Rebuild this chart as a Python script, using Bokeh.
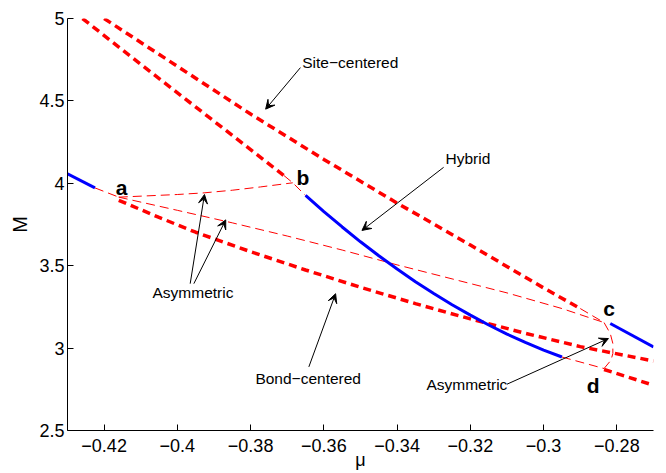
from bokeh.plotting import figure
from bokeh.models import Range1d, FixedTicker, Arrow, VeeHead, ColumnDataSource
from bokeh.core.properties import value
from bokeh.embed import file_html
from bokeh.resources import INLINE

# ---- axis ticks ----
x_ticks = [-0.42, -0.40, -0.38, -0.36, -0.34, -0.32, -0.30, -0.28]
x_tick_labels = ["−0.42", "−0.4", "−0.38", "−0.36", "−0.34", "−0.32", "−0.3", "−0.28"]
y_ticks = [2.5, 3.0, 3.5, 4.0, 4.5, 5.0]
y_tick_labels = ["2.5", "3", "3.5", "4", "4.5", "5"]

# ---- site-centered branches (thick dashed) ----
site_up_x = [-0.420, -0.400, -0.380, -0.360, -0.340, -0.320, -0.300, -0.290]
site_up_y = [5.000, 4.710, 4.420, 4.145, 3.880, 3.625, 3.365, 3.240]
site_lo_x = [-0.4259, -0.410, -0.390, -0.3709]
site_lo_y = [5.000, 4.722, 4.377, 4.047]

# ---- bond-centered branches (thick dashed) ----
bond_x = [-0.416, -0.405, -0.395, -0.380, -0.365, -0.350, -0.335, -0.320, -0.305, -0.290, -0.270]
bond_y = [3.897, 3.793, 3.703, 3.585, 3.474, 3.369, 3.270, 3.177, 3.090, 3.009, 2.922]
bond_d_x = [-0.2835, -0.270]
bond_d_y = [2.870, 2.775]

# ---- hybrid branches (solid blue) ----
hyb_left_x = [-0.430, -0.4225]
hyb_left_y = [4.057, 3.972]
hyb_mid_x = [-0.365, -0.360, -0.355, -0.350, -0.345, -0.340, -0.335, -0.330,
             -0.325, -0.320, -0.315, -0.310, -0.305, -0.300, -0.295]
hyb_mid_y = [3.926, 3.828, 3.735, 3.645, 3.560, 3.480, 3.403, 3.331,
             3.263, 3.200, 3.140, 3.085, 3.035, 2.988, 2.946]
hyb_right_x = [-0.2818, -0.270]
hyb_right_y = [3.149, 3.007]

# ---- asymmetric / unstable branches (thin dashed) ----
asym_ab_x = [-0.416, -0.400, -0.3927, -0.385, -0.3773, -0.3685]
asym_ab_y = [3.916, 3.932, 3.942, 3.958, 3.978, 4.003]
asym_ac_x = [-0.416, -0.400, -0.385, -0.370, -0.355, -0.340, -0.325, -0.310, -0.295, -0.2835]
asym_ac_y = [3.916, 3.836, 3.760, 3.680, 3.595, 3.505, 3.420, 3.335, 3.240, 3.155]
asym_cd_x = [-0.2835, -0.2818, -0.2811, -0.2811, -0.2816, -0.2835]
asym_cd_y = [3.155, 3.088, 3.028, 2.967, 2.927, 2.876]
link_a_x = [-0.4225, -0.416]
link_a_y = [3.972, 3.916]
link_b_x = [-0.3709, -0.3685, -0.3650]
link_b_y = [4.047, 4.003, 3.926]
link_c_x = [-0.290, -0.2835]
link_c_y = [3.240, 3.155]
link_d_x = [-0.295, -0.2835]
link_d_y = [2.946, 2.876]

# ---- annotations ----
ann_text = ["Site−centered", "Hybrid", "Asymmetric", "Bond−centered", "Asymmetric"]
ann_x = [-0.3659, -0.3268, -0.4068, -0.3787, -0.3320]
ann_y = [4.735, 4.150, 3.335, 2.818, 2.781]
pt_text = ["a", "b", "c", "d"]
pt_x = [-0.4168, -0.3675, -0.2837, -0.2882]
pt_y = [3.974, 4.034, 3.243, 2.773]
arr_x0 = [-0.3664, -0.3273, -0.3965, -0.3955, -0.3641, -0.3100]
arr_y0 = [4.702, 4.097, 3.391, 3.391, 2.886, 2.781]
arr_x1 = [-0.3759, -0.3496, -0.3926, -0.3868, -0.3568, -0.2823]
arr_y1 = [4.450, 3.714, 3.932, 3.778, 3.330, 3.058]

RED = "#ff0000"
BLUE = "#0000ff"
FONT = "Liberation Sans"

p = figure(width=666, height=473, x_range=Range1d(-0.43, -0.27), y_range=Range1d(2.5, 5.0),
           output_backend="svg", toolbar_location=None, title=None,
           min_border_left=67, min_border_right=13, min_border_top=18, min_border_bottom=43)
p.outline_line_color = None
p.grid.visible = False
p.background_fill_color = "white"
p.border_fill_color = "white"

p.xaxis.ticker = FixedTicker(ticks=x_ticks)
p.xaxis.major_label_overrides = dict(zip(x_ticks, x_tick_labels))
p.yaxis.ticker = FixedTicker(ticks=y_ticks)
p.yaxis.major_label_overrides = dict(zip(y_ticks, y_tick_labels))
for ax in (p.xaxis[0], p.yaxis[0]):
    ax.axis_line_color = "black"
    ax.axis_line_width = 1
    ax.major_tick_line_color = "black"
    ax.major_tick_in = 6
    ax.major_tick_out = 0
    ax.minor_tick_line_color = None
    ax.major_label_text_font = FONT
    ax.major_label_text_font_size = "18px"
    ax.major_label_text_color = "black"
    ax.axis_label_text_font = FONT
    ax.axis_label_text_font_style = "normal"
    ax.axis_label_text_color = "black"
p.yaxis.major_label_standoff = 3
p.xaxis.major_label_standoff = 8
p.yaxis.axis_label = "M"
p.yaxis.axis_label_text_font_size = "20px"
p.yaxis.axis_label_standoff = 5
p.xaxis.axis_label = "μ"
p.xaxis.axis_label_text_font_size = "18px"
p.xaxis.axis_label_standoff = -5

thick = dict(line_color=RED, line_width=3.5, line_dash="8 5")
thin = dict(line_color=RED, line_width=1, line_dash="9 5")
solid = dict(line_color=BLUE, line_width=3)

for xs, ys in [(site_up_x, site_up_y), (site_lo_x, site_lo_y), (bond_x, bond_y), (bond_d_x, bond_d_y)]:
    p.line(xs, ys, **thick)
for xs, ys in [(asym_ab_x, asym_ab_y), (asym_ac_x, asym_ac_y), (asym_cd_x, asym_cd_y),
               (link_a_x, link_a_y), (link_b_x, link_b_y), (link_c_x, link_c_y), (link_d_x, link_d_y)]:
    p.line(xs, ys, **thin)
for xs, ys in [(hyb_left_x, hyb_left_y), (hyb_mid_x, hyb_mid_y), (hyb_right_x, hyb_right_y)]:
    p.line(xs, ys, **solid)

arr_src = ColumnDataSource(dict(x0=arr_x0, y0=arr_y0, x1=arr_x1, y1=arr_y1))
p.add_layout(Arrow(source=arr_src, x_start="x0", y_start="y0", x_end="x1", y_end="y1",
                   line_color="black", line_width=1,
                   end=VeeHead(size=9, fill_color="black", line_color="black", line_width=1)))

p.text(x=ann_x, y=ann_y, text=ann_text, text_font=value(FONT), text_font_size=value("15.5px"),
       text_color="black", text_align="left", text_baseline="middle")
p.text(x=pt_x, y=pt_y, text=pt_text, text_font=value(FONT), text_font_size=value("21px"),
       text_font_style="bold", text_color="black", text_align="left", text_baseline="middle")

open("out.html", "w").write(file_html(p, INLINE))
